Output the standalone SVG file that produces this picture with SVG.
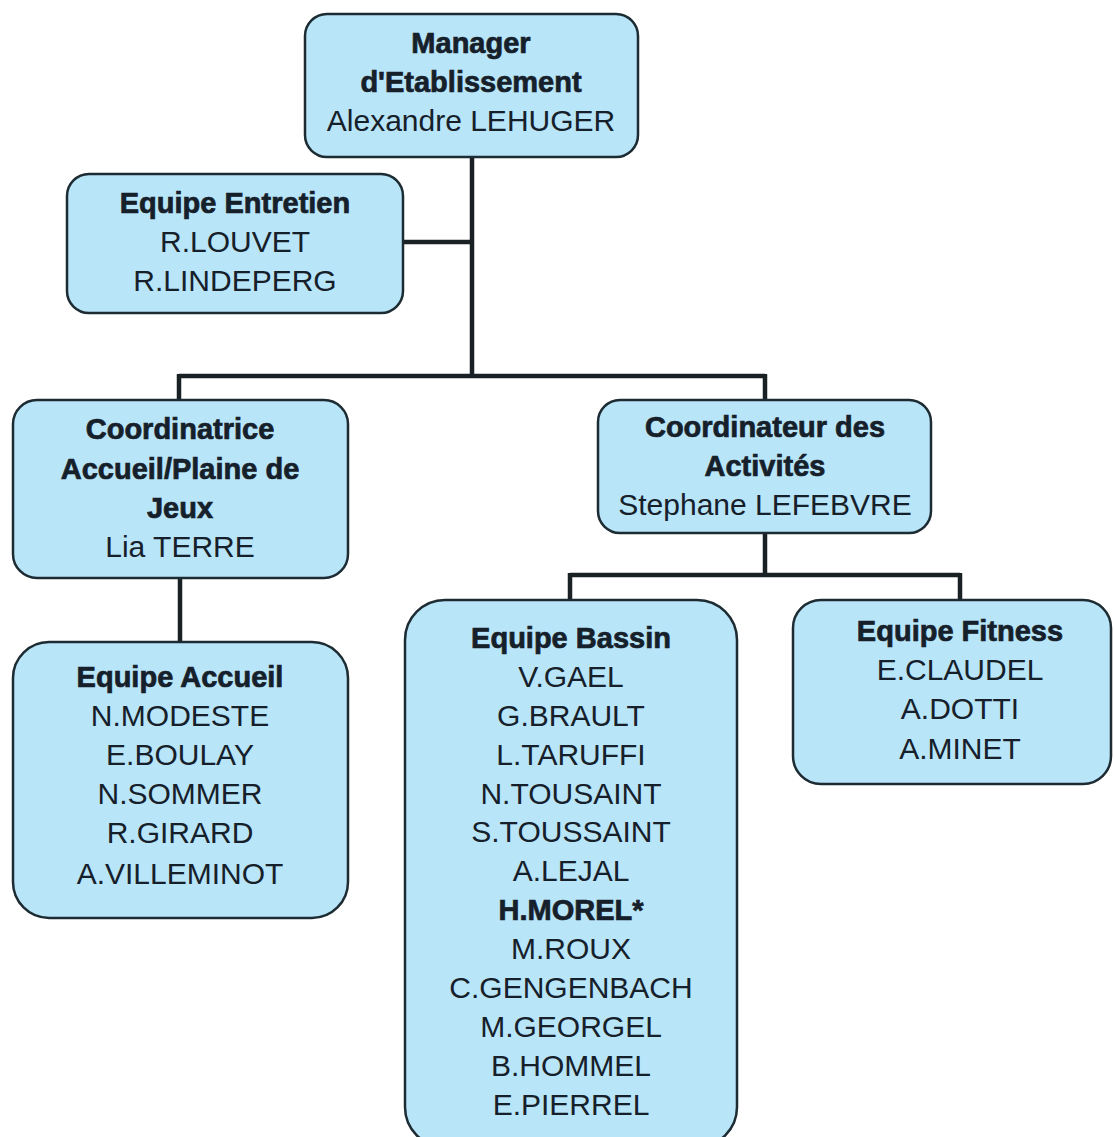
<svg xmlns="http://www.w3.org/2000/svg" width="1114" height="1137" viewBox="0 0 1114 1137">
<style>
.box{fill:#b8e5f8;stroke:#1d2b33;stroke-width:2.5}
.t{font-family:"Liberation Sans",Arial,sans-serif;font-size:30px;fill:#16202a;text-anchor:middle}
.b{font-weight:bold;font-size:29px;stroke:#16202a;stroke-width:0.7}
.c{fill:none;stroke:#1a2125;stroke-width:4.5}
</style>
<rect width="1114" height="1137" fill="#ffffff"/>
<g id="connectors">
<path class="c" d="M472 157V376M403 242H472M179 376H765M179 374V400M765 374V400M180 578V642M765 533V575M570 575H960M570 573V600M960 573V600"/>
</g>
<g id="manager">
<rect class="box" x="305" y="14" width="333" height="143" rx="22"/>
<text class="t b" x="471" y="53">Manager</text>
<text class="t b" x="471" y="92">d'Etablissement</text>
<text class="t" x="471" y="131">Alexandre LEHUGER</text>
</g>
<g id="entretien">
<rect class="box" x="67" y="174" width="336" height="139" rx="22"/>
<text class="t b" x="235" y="213">Equipe Entretien</text>
<text class="t" x="235" y="252">R.LOUVET</text>
<text class="t" x="235" y="291">R.LINDEPERG</text>
</g>
<g id="coord-accueil">
<rect class="box" x="13" y="400" width="335" height="178" rx="24"/>
<text class="t b" x="180" y="439">Coordinatrice</text>
<text class="t b" x="180" y="479">Accueil/Plaine de</text>
<text class="t b" x="180" y="518">Jeux</text>
<text class="t" x="180" y="557">Lia TERRE</text>
</g>
<g id="coord-activites">
<rect class="box" x="598" y="400" width="333" height="133" rx="22"/>
<text class="t b" x="765" y="437">Coordinateur des</text>
<text class="t b" x="765" y="476">Activités</text>
<text class="t" x="765" y="515">Stephane LEFEBVRE</text>
</g>
<g id="equipe-accueil">
<rect class="box" x="13" y="642" width="335" height="276" rx="36"/>
<text class="t b" x="180" y="687">Equipe Accueil</text>
<text class="t" x="180" y="726">N.MODESTE</text>
<text class="t" x="180" y="765">E.BOULAY</text>
<text class="t" x="180" y="804">N.SOMMER</text>
<text class="t" x="180" y="843">R.GIRARD</text>
<text class="t" x="180" y="884">A.VILLEMINOT</text>
</g>
<g id="equipe-bassin">
<rect class="box" x="405" y="600" width="332" height="547" rx="40"/>
<text class="t b" x="571" y="648">Equipe Bassin</text>
<text class="t" x="571" y="687">V.GAEL</text>
<text class="t" x="571" y="726">G.BRAULT</text>
<text class="t" x="571" y="765">L.TARUFFI</text>
<text class="t" x="571" y="804">N.TOUSAINT</text>
<text class="t" x="571" y="842">S.TOUSSAINT</text>
<text class="t" x="571" y="881">A.LEJAL</text>
<text class="t b" x="571" y="920">H.MOREL*</text>
<text class="t" x="571" y="959">M.ROUX</text>
<text class="t" x="571" y="998">C.GENGENBACH</text>
<text class="t" x="571" y="1037">M.GEORGEL</text>
<text class="t" x="571" y="1076">B.HOMMEL</text>
<text class="t" x="571" y="1115">E.PIERREL</text>
</g>
<g id="equipe-fitness">
<rect class="box" x="793" y="600" width="318" height="184" rx="28"/>
<text class="t b" x="960" y="641">Equipe Fitness</text>
<text class="t" x="960" y="680">E.CLAUDEL</text>
<text class="t" x="960" y="719">A.DOTTI</text>
<text class="t" x="960" y="759">A.MINET</text>
</g>
</svg>
